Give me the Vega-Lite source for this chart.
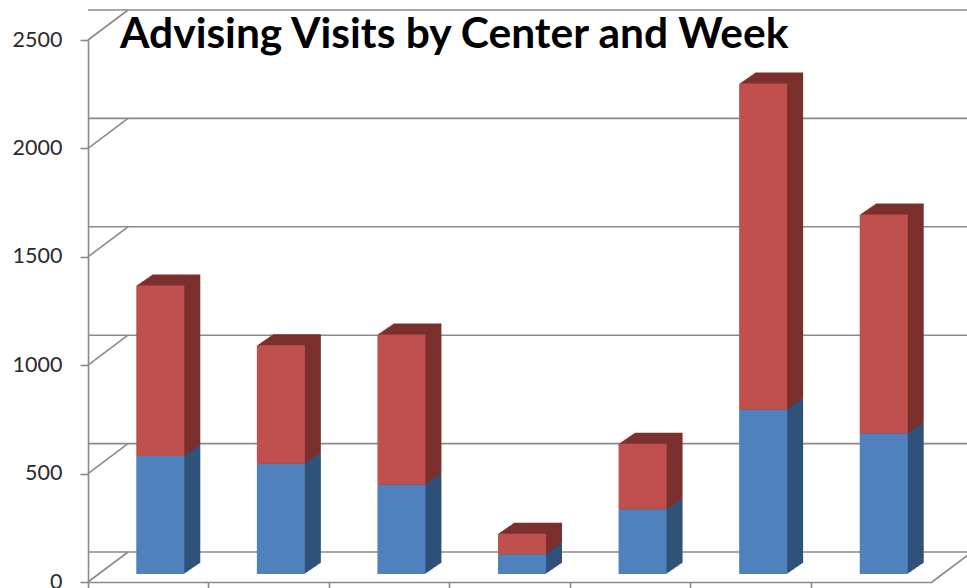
{
  "$schema": "https://vega.github.io/schema/vega-lite/v6.json",
  "width": 844,
  "height": 542,
  "autosize": "none",
  "padding": {"left": 88, "top": 40, "right": 35, "bottom": 6},
  "background": "white",
  "config": {"view": {"stroke": null}},
  "title": {
    "text": "Advising Visits by Center and Week",
    "anchor": "start",
    "frame": "group",
    "font": "Lato",
    "fontSize": 42.5,
    "fontWeight": "bold",
    "color": "#000000",
    "baseline": "alphabetic",
    "offset": 0,
    "dx": 32,
    "dy": 81
  },
  "datasets": {
    "visits": [
      {"center": "Center 1", "week": "Week 1", "ord": 1, "visits": 544},
      {"center": "Center 1", "week": "Week 2", "ord": 2, "visits": 787},
      {"center": "Center 2", "week": "Week 1", "ord": 1, "visits": 509},
      {"center": "Center 2", "week": "Week 2", "ord": 2, "visits": 546},
      {"center": "Center 3", "week": "Week 1", "ord": 1, "visits": 412},
      {"center": "Center 3", "week": "Week 2", "ord": 2, "visits": 693},
      {"center": "Center 4", "week": "Week 1", "ord": 1, "visits": 91},
      {"center": "Center 4", "week": "Week 2", "ord": 2, "visits": 95},
      {"center": "Center 5", "week": "Week 1", "ord": 1, "visits": 297},
      {"center": "Center 5", "week": "Week 2", "ord": 2, "visits": 304},
      {"center": "Center 6", "week": "Week 1", "ord": 1, "visits": 758},
      {"center": "Center 6", "week": "Week 2", "ord": 2, "visits": 1504},
      {"center": "Center 7", "week": "Week 1", "ord": 1, "visits": 648},
      {"center": "Center 7", "week": "Week 2", "ord": 2, "visits": 1010}
    ],
    "grid": [{"v": 0}, {"v": 500}, {"v": 1000}, {"v": 1500}, {"v": 2000}, {"v": 2500}]
  },
  "layer": [
    {
      "data": {"name": "grid"},
      "mark": {"type": "rule", "color": "#8a8a8a", "strokeWidth": 1.6, "xOffset": 40, "x2Offset": 40, "yOffset": -30},
      "encoding": {
        "y": {"field": "v", "type": "quantitative", "scale": {"domain": [0, 2500], "nice": false}}
      }
    },
    {
      "data": {"name": "grid"},
      "mark": {"type": "rule", "color": "#8a8a8a", "strokeWidth": 1.6, "y2Offset": -30, "x2Offset": 40},
      "encoding": {
        "x": {"value": 0},
        "x2": {"value": 0},
        "y": {"field": "v", "type": "quantitative"},
        "y2": {"field": "v"}
      }
    },
    {
      "data": {"values": [{"v": 0}]},
      "mark": {"type": "rule", "color": "#8a8a8a", "strokeWidth": 1.6, "y2Offset": -30, "x2Offset": 40},
      "encoding": {
        "x": {"value": {"expr": "width"}},
        "x2": {"value": {"expr": "width"}},
        "y": {"field": "v", "type": "quantitative"},
        "y2": {"field": "v"}
      }
    },
    {
      "data": {"name": "visits"},
      "encoding": {
        "x": {
          "field": "center",
          "type": "nominal",
          "sort": null,
          "scale": {"paddingInner": 0.602, "paddingOuter": 0.301},
          "axis": {
            "title": null,
            "labels": false,
            "ticks": true,
            "tickSize": 7,
            "tickWidth": 1.6,
            "tickColor": "#8a8a8a",
            "bandPosition": -0.756,
            "domainColor": "#8a8a8a",
            "domainWidth": 1.6,
            "grid": false
          }
        },
        "y": {
          "field": "visits",
          "type": "quantitative",
          "stack": "zero",
          "scale": {"domain": [0, 2500], "nice": false},
          "axis": {
            "title": null,
            "values": [0, 500, 1000, 1500, 2000, 2500],
            "format": "d",
            "grid": false,
            "domainColor": "#8a8a8a",
            "domainWidth": 1.6,
            "tickColor": "#8a8a8a",
            "tickWidth": 1.6,
            "tickSize": 8,
            "labelFont": "Lato",
            "labelFontSize": 21.5,
            "labelColor": "#2b2b2b",
            "labelPadding": 18
          }
        },
        "order": {"field": "ord", "type": "quantitative"},
        "detail": {"field": "week"},
        "fill": {"condition": {"test": "datum.week === 'Week 1'", "value": "#30527a"}, "value": "#7b302e"}
      },
      "layer": [
        {"mark": {"type": "bar", "xOffset": 28, "yOffset": -19}},
        {"mark": {"type": "bar", "xOffset": 27, "yOffset": -18.31}},
        {"mark": {"type": "bar", "xOffset": 26, "yOffset": -17.63}},
        {"mark": {"type": "bar", "xOffset": 25, "yOffset": -16.94}},
        {"mark": {"type": "bar", "xOffset": 24, "yOffset": -16.25}},
        {"mark": {"type": "bar", "xOffset": 23, "yOffset": -15.56}},
        {"mark": {"type": "bar", "xOffset": 22, "yOffset": -14.88}},
        {"mark": {"type": "bar", "xOffset": 21, "yOffset": -14.19}},
        {"mark": {"type": "bar", "xOffset": 20, "yOffset": -13.5}},
        {"mark": {"type": "bar", "xOffset": 19, "yOffset": -12.81}},
        {"mark": {"type": "bar", "xOffset": 18, "yOffset": -12.13}},
        {"mark": {"type": "bar", "xOffset": 17, "yOffset": -11.44}},
        {"mark": {"type": "bar", "xOffset": 16, "yOffset": -10.75}},
        {"mark": {"type": "bar", "xOffset": 15, "yOffset": -10.06}},
        {"mark": {"type": "bar", "xOffset": 14, "yOffset": -9.38}},
        {"mark": {"type": "bar", "xOffset": 13, "yOffset": -8.69}},
        {
          "mark": {"type": "bar", "xOffset": 12, "yOffset": -8},
          "encoding": {
            "fill": {"condition": {"test": "datum.week === 'Week 1'", "value": "#4f81bd"}, "value": "#c0504d"}
          }
        }
      ]
    }
  ]
}
